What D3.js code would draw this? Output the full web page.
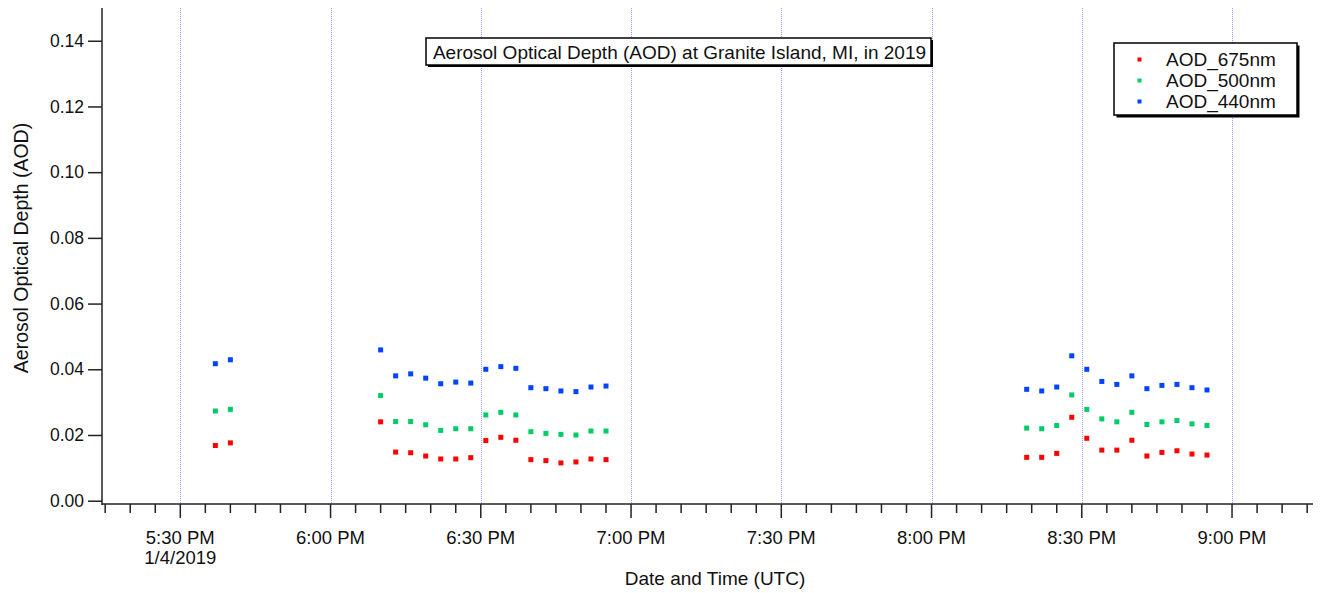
<!DOCTYPE html>
<html>
<head>
<meta charset="utf-8">
<script src="https://cdn.jsdelivr.net/npm/d3@7"></script>
<style>
  html, body { margin: 0; padding: 0; background: #fff; }
  svg { display: block; font-family: "Liberation Sans", Arial, sans-serif; }
</style>
</head>
<body>
<svg id="chart" width="1323" height="593"></svg>
<script>
// ---- Data (UTC, 2019-01-04) ----
const times = ["17:37","17:40",
  "18:10","18:13","18:16","18:19","18:22","18:25","18:28","18:31","18:34","18:37","18:40","18:43","18:46","18:49","18:52","18:55",
  "20:19","20:22","20:25","20:28","20:31","20:34","20:37","20:40","20:43","20:46","20:49","20:52","20:55"];
const aod675 = [0.0168,0.0176,
  0.0240,0.0148,0.0146,0.0136,0.0127,0.0127,0.0131,0.0183,0.0193,0.0184,0.0125,0.0122,0.0115,0.0118,0.0127,0.0125,
  0.0132,0.0132,0.0144,0.0254,0.0190,0.0154,0.0154,0.0184,0.0136,0.0147,0.0152,0.0142,0.0139];
const aod500 = [0.0273,0.0278,
  0.0320,0.0241,0.0241,0.0231,0.0214,0.0219,0.0219,0.0261,0.0269,0.0261,0.0210,0.0205,0.0202,0.0200,0.0212,0.0212,
  0.0221,0.0219,0.0229,0.0322,0.0278,0.0249,0.0240,0.0269,0.0232,0.0240,0.0244,0.0234,0.0229];
const aod440 = [0.0417,0.0429,
  0.0459,0.0380,0.0386,0.0373,0.0356,0.0361,0.0358,0.0400,0.0408,0.0403,0.0344,0.0341,0.0334,0.0332,0.0346,0.0349,
  0.0339,0.0334,0.0346,0.0441,0.0400,0.0363,0.0354,0.0380,0.0341,0.0351,0.0354,0.0344,0.0337];
const seriesNames = ["AOD_675nm","AOD_500nm","AOD_440nm"];
const seriesColors = ["#ff0000","#00cc66","#0044ff"];
const yTicks = [0,0.02,0.04,0.06,0.08,0.10,0.12,0.14];
const titleText = "Aerosol Optical Depth (AOD) at Granite Island, MI, in 2019";
const xLabel = "Date and Time (UTC)";
const yLabel = "Aerosol Optical Depth (AOD)";
const dateLabel = "1/4/2019";

// ---- Build ----
const parse = t => new Date(Date.UTC(2019,0,4,+t.split(":")[0],+t.split(":")[1]));
const series = [aod675, aod500, aod440].map((vals,i) => ({
  name: seriesNames[i], color: seriesColors[i],
  pts: vals.map((v,j) => ({t: parse(times[j]), v}))
}));

const svg = d3.select("#chart");
const x0 = 102, x1 = 1313, yTop = 8, yAxisY = 504;
const x = d3.scaleUtc()
  .domain([new Date(Date.UTC(2019,0,4,17,14,22)), new Date(Date.UTC(2019,0,4,21,16,10))])
  .range([x0, x1]);
const y = d3.scaleLinear().domain([0, 0.15]).range([500.7, 7.9]);

const majorTicks = x.ticks(d3.utcMinute.every(30));
const minorTicks = x.ticks(d3.utcMinute.every(5));

// gridlines
svg.append("g").selectAll("line").data(majorTicks).join("line")
  .attr("x1", d => Math.round(x(d)) + 0.5).attr("x2", d => Math.round(x(d)) + 0.5)
  .attr("y1", yTop).attr("y2", yAxisY)
  .attr("stroke", "#9a9aff").attr("stroke-width", 1).attr("stroke-dasharray", "1,1");

// y axis
const yAxis = d3.axisLeft(y).tickValues(yTicks).tickFormat(d3.format(".2f")).tickSize(14).tickPadding(4);
const gy = svg.append("g").attr("transform", `translate(${x0},0)`).call(yAxis);
gy.select(".domain").remove();
gy.selectAll(".tick line").attr("stroke", "#222").attr("stroke-width", 1.5);
gy.selectAll(".tick text").attr("font-size", 17.5).attr("fill", "#111")
  .attr("font-family", "Liberation Sans, Arial, sans-serif");
svg.append("line").attr("x1", x0).attr("x2", x0).attr("y1", yTop).attr("y2", yAxisY + 1)
  .attr("stroke", "#222").attr("stroke-width", 1.5);

// x axis
const gx = svg.append("g").attr("transform", `translate(0,${yAxisY})`);
gx.append("line").attr("x1", x0).attr("x2", x1).attr("y1", 0).attr("y2", 0)
  .attr("stroke", "#222").attr("stroke-width", 1.5);
const majSet = new Set(majorTicks.map(d => +d));
gx.selectAll("line.tk").data(minorTicks).join("line").attr("class","tk")
  .attr("x1", d => x(d)).attr("x2", d => x(d))
  .attr("y1", 0).attr("y2", d => majSet.has(+d) ? 14 : 9)
  .attr("stroke", "#222").attr("stroke-width", 1.5);
const fmt = d3.utcFormat("%-I:%M %p");
gx.selectAll("text.tl").data(majorTicks).join("text").attr("class","tl")
  .attr("x", d => x(d)).attr("y", 40).attr("text-anchor", "middle")
  .attr("font-size", 18.5).attr("fill", "#111").text(d => fmt(d));
gx.append("text").attr("x", x(majorTicks[0])).attr("y", 60).attr("text-anchor","middle")
  .attr("font-size", 18.5).attr("fill", "#111").text(dateLabel);

// axis labels
svg.append("text").attr("x", 715).attr("y", 585).attr("text-anchor","middle")
  .attr("font-size", 19).attr("fill","#111").text(xLabel);
svg.append("text").attr("transform", "translate(28,248) rotate(-90)").attr("text-anchor","middle")
  .attr("font-size", 19.5).attr("fill","#111").text(yLabel);

// points
const sz = 5;
series.forEach(s => {
  svg.append("g").selectAll("rect").data(s.pts).join("rect")
    .attr("x", d => x(d.t) - sz/2).attr("y", d => y(d.v) - sz/2)
    .attr("width", sz).attr("height", sz).attr("fill", s.color);
});

// title box
const tb = {x: 426, y: 38, w: 505, h: 27};
svg.append("rect").attr("x", tb.x + 2).attr("y", tb.y + 2).attr("width", tb.w).attr("height", tb.h).attr("fill", "#000");
svg.append("rect").attr("x", tb.x).attr("y", tb.y).attr("width", tb.w).attr("height", tb.h)
  .attr("fill", "#fff").attr("stroke", "#000").attr("stroke-width", 1.5);
svg.append("text").attr("x", tb.x + tb.w/2 + 1).attr("y", tb.y + 20.5).attr("text-anchor","middle")
  .attr("font-size", 19).attr("fill","#111").text(titleText);

// legend
const lb = {x: 1114, y: 43, w: 183, h: 72};
svg.append("rect").attr("x", lb.x + 2.5).attr("y", lb.y + 2.5).attr("width", lb.w).attr("height", lb.h).attr("fill", "#000");
svg.append("rect").attr("x", lb.x).attr("y", lb.y).attr("width", lb.w).attr("height", lb.h)
  .attr("fill", "#fff").attr("stroke", "#000").attr("stroke-width", 1.5);
series.forEach((s, i) => {
  const cy = 59.5 + i * 21;
  svg.append("rect").attr("x", 1139.5 - 2).attr("y", cy - 2).attr("width", 4).attr("height", 4).attr("fill", s.color);
  svg.append("text").attr("x", 1166).attr("y", cy + 6.5).attr("font-size", 19).attr("fill","#111").text(s.name);
});
</script>
</body>
</html>
